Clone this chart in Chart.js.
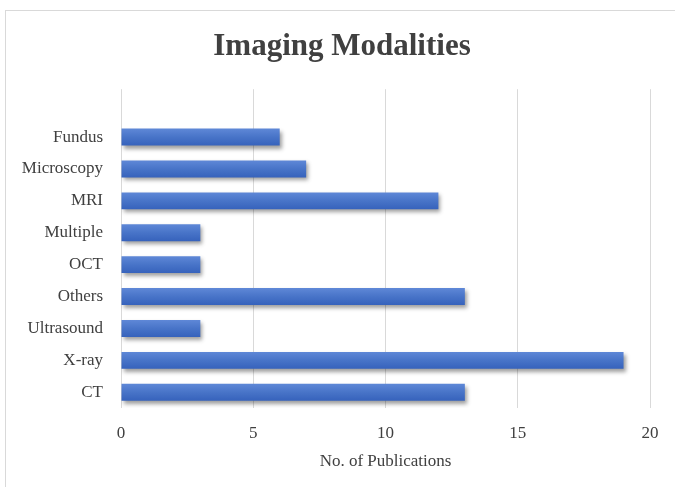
<!DOCTYPE html>
<html>
<head>
<meta charset="utf-8">
<script src="https://cdn.jsdelivr.net/npm/chart.js@4.4.1/dist/chart.umd.min.js"></script>
<style>
  html, body { margin: 0; padding: 0; background: #ffffff; }
  #wrap { position: relative; width: 675px; height: 487px; }
</style>
</head>
<body>
<div id="wrap"><canvas id="c" width="675" height="487"></canvas></div>
<script>
// ---- data (top to bottom as shown) ----
const categories = ["Fundus", "Microscopy", "MRI", "Multiple", "OCT", "Others", "Ultrasound", "X-ray", "CT"];
const publications = [6, 7, 12, 3, 3, 13, 3, 19, 13];
const xTicks = [0, 5, 10, 15, 20];
const chartTitle = "Imaging Modalities";
const xAxisTitle = "No. of Publications";

const serif = "'Liberation Serif', 'Times New Roman', Times, serif";
const textColor = "#404040";

const frame = {
  id: 'frame',
  afterLayout(chart) {
    // centre the title over the framed area rather than the padded box
    if (chart.titleBlock) {
      chart.titleBlock.left += 17;
      chart.titleBlock.right += 17;
    }
  },
  beforeDraw(chart) {
    const ctx = chart.ctx;
    ctx.save();
    ctx.fillStyle = '#ffffff';
    ctx.fillRect(0, 0, chart.width, chart.height);
    ctx.strokeStyle = '#d9d9d9';
    ctx.lineWidth = 1;
    ctx.strokeRect(5.5, 10.5, chart.width + 10, chart.height + 10);
    ctx.restore();
  }
};

const barShadow = {
  id: 'barShadow',
  beforeDatasetsDraw(chart) {
    const ctx = chart.ctx;
    ctx.save();
    ctx.shadowColor = 'rgba(0,0,0,0.38)';
    ctx.shadowBlur = 4;
    ctx.shadowOffsetX = 2;
    ctx.shadowOffsetY = 3;
  },
  afterDatasetsDraw(chart) {
    chart.ctx.restore();
  }
};

function barGradient(c) {
  const chart = c.chart;
  if (!chart.chartArea || c.dataIndex === undefined) return '#4472c4';
  const y = chart.scales.y.getPixelForValue(c.dataIndex);
  const g = chart.ctx.createLinearGradient(0, y - 9, 0, y + 9);
  g.addColorStop(0, '#6089d8');
  g.addColorStop(0.5, '#4874c8');
  g.addColorStop(1, '#3561bb');
  return g;
}

new Chart(document.getElementById('c'), {
  type: 'bar',
  data: {
    labels: categories,
    datasets: [{
      data: publications,
      backgroundColor: barGradient,
      borderWidth: 0,
      categoryPercentage: 1.0,
      barPercentage: 0.53
    }]
  },
  plugins: [frame, barShadow],
  options: {
    indexAxis: 'y',
    responsive: false,
    animation: false,
    layout: { padding: { top: 0, right: 25, bottom: 12, left: 0 } },
    plugins: {
      legend: { display: false },
      tooltip: { enabled: false },
      title: {
        display: true,
        text: chartTitle,
        color: textColor,
        font: { family: serif, size: 31, weight: 'bold', lineHeight: 1.2 },
        padding: { top: 28, bottom: 24 }
      }
    },
    scales: {
      x: {
        min: 0,
        max: 20,
        afterBuildTicks(axis) { axis.ticks = xTicks.map(v => ({ value: v })); },
        grid: { color: '#d9d9d9', lineWidth: 1, drawTicks: false },
        border: { display: false },
        ticks: { color: textColor, font: { family: serif, size: 17 }, padding: 15 },
        title: {
          display: true,
          text: xAxisTitle,
          color: textColor,
          font: { family: serif, size: 17, lineHeight: 1.2 },
          padding: { top: -7, bottom: 3 }
        }
      },
      y: {
        afterFit(axis) { axis.width = 121; },
        afterBuildTicks(axis) {
          // one empty category slot above the first bar, as in the original
          axis._startValue = -1.5;
          axis._valueRange = categories.length + 1;
        },
        grid: { display: false, drawTicks: false },
        border: { display: false },
        ticks: { color: textColor, font: { family: serif, size: 17 }, padding: 18 }
      }
    }
  }
});
</script>
</body>
</html>
